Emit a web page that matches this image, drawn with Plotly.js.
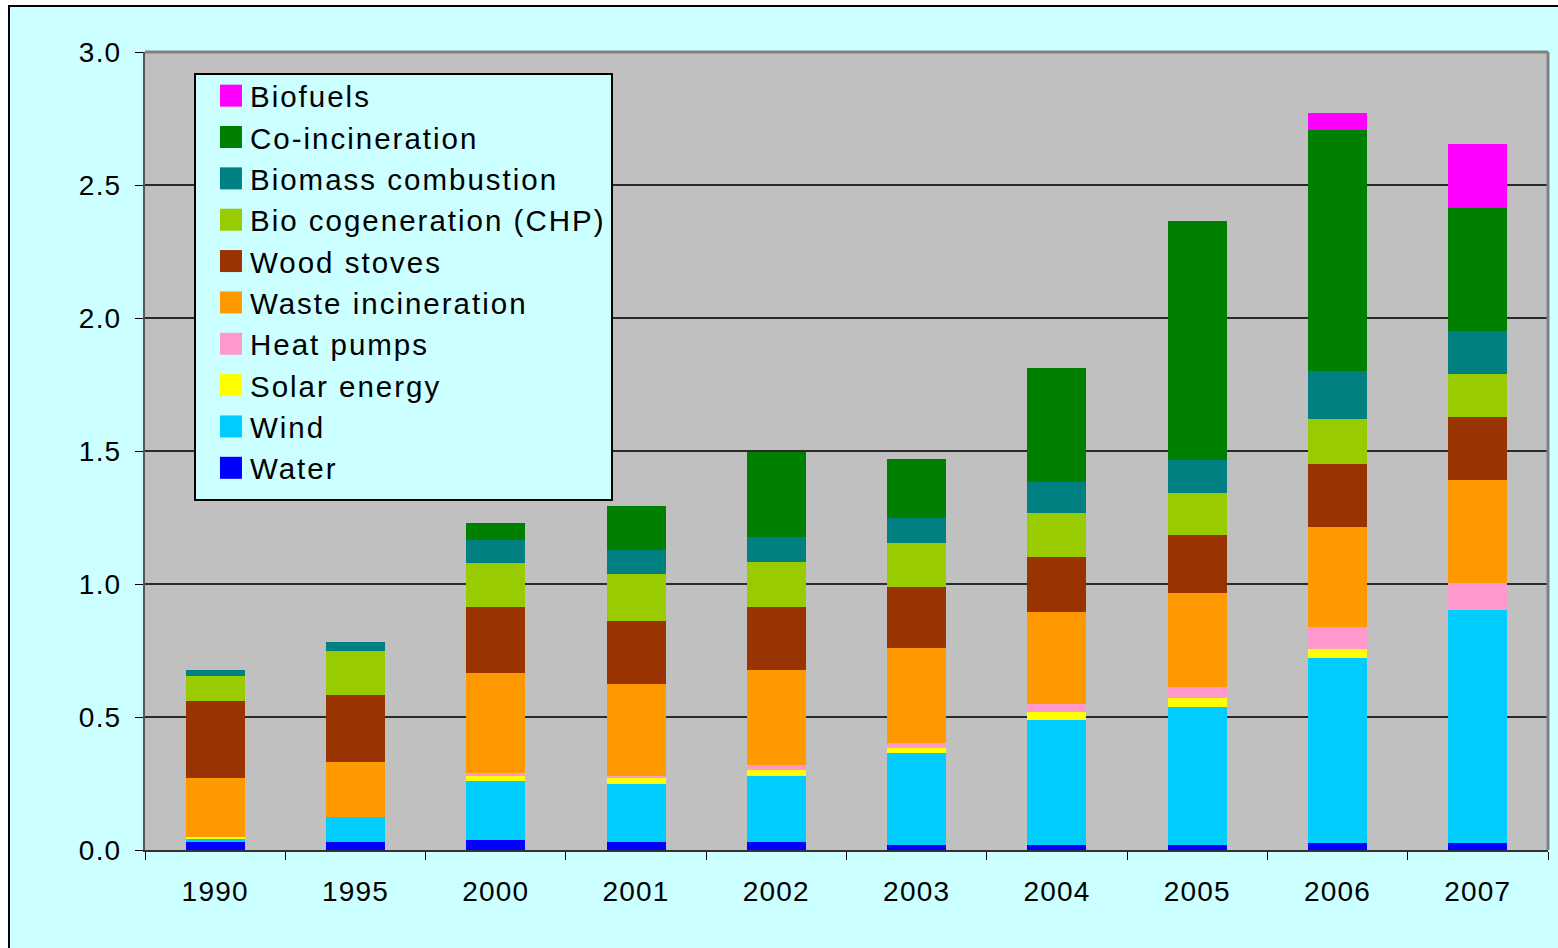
<!DOCTYPE html>
<html>
<head>
<meta charset="utf-8">
<script src="https://cdn.plot.ly/plotly-3.0.1.min.js"></script>
<style>
  html, body { margin:0; padding:0; background:#ffffff; overflow:hidden; width:1558px; height:948px; }
  #frame { position:absolute; left:8px; top:5px; width:1550px; height:943px; background:#CCFFFF;
           border-left:2px solid #000; border-top:2px solid #000; box-sizing:border-box; }
  #chart { position:absolute; left:0; top:0; width:1558px; height:948px; }
  .legendtext { letter-spacing: 2px; }
  .xtick text, .ytick text { letter-spacing: 1.2px; }
</style>
</head>
<body>
<div id="frame"></div>
<div id="chart"></div>
<script>
// Categories (years)
const years = ['1990','1995','2000','2001','2002','2003','2004','2005','2006','2007'];

// Series values
const water        = [0.030, 0.030, 0.038, 0.030, 0.030, 0.019, 0.019, 0.019, 0.026, 0.026];
const wind         = [0.011, 0.094, 0.222, 0.218, 0.248, 0.346, 0.470, 0.519, 0.697, 0.877];
const solar        = [0.008, 0.000, 0.019, 0.023, 0.023, 0.019, 0.030, 0.034, 0.033, 0.000];
const heatPumps    = [0.000, 0.000, 0.011, 0.008, 0.019, 0.019, 0.030, 0.041, 0.084, 0.102];
const wasteInc     = [0.222, 0.207, 0.376, 0.346, 0.357, 0.357, 0.346, 0.353, 0.376, 0.387];
const woodStoves   = [0.289, 0.252, 0.248, 0.237, 0.237, 0.229, 0.207, 0.218, 0.237, 0.237];
const bioCHP       = [0.094, 0.165, 0.165, 0.177, 0.169, 0.165, 0.165, 0.158, 0.166, 0.159];
const biomassComb  = [0.023, 0.034, 0.087, 0.087, 0.094, 0.094, 0.117, 0.124, 0.180, 0.164];
const coInc        = [0.000, 0.000, 0.064, 0.169, 0.321, 0.222, 0.429, 0.898, 0.907, 0.460];
const biofuels     = [0.000, 0.000, 0.000, 0.000, 0.000, 0.000, 0.000, 0.000, 0.064, 0.241];

// Y tick values / labels
const yTickVals = [0, 0.5, 1.0, 1.5, 2.0, 2.5, 3.0];
const yTickText = ['0.0','0.5','1.0','1.5','2.0','2.5','3.0'];

const seriesNames  = ['Water','Wind','Solar energy','Heat pumps','Waste incineration','Wood stoves','Bio cogeneration (CHP)','Biomass combustion','Co-incineration','Biofuels'];
const seriesValues = [water, wind, solar, heatPumps, wasteInc, woodStoves, bioCHP, biomassComb, coInc, biofuels];
const seriesColors = ['#0000FF','#00CCFF','#FFFF00','#FF99CC','#FF9900','#993300','#99CC00','#008080','#008000','#FF00FF'];

const traces = seriesNames.map((n, i) => ({
  type: 'bar',
  name: n,
  x: years,
  y: seriesValues[i],
  marker: { color: seriesColors[i], line: { width: 0 } },
  hoverinfo: 'skip'
}));

const FONT = 'Arial, "Liberation Sans", sans-serif';

const layout = {
  width: 1558,
  height: 948,
  margin: { l: 145, r: 10, t: 52, b: 98, pad: 0 },
  paper_bgcolor: 'rgba(0,0,0,0)',
  plot_bgcolor: '#C0C0C0',
  barmode: 'stack',
  bargap: 0.58,
  showlegend: true,
  legend: {
    x: 0.0349, y: 0.9737, xanchor: 'left', yanchor: 'top',
    bgcolor: '#CCFFFF', bordercolor: '#000000', borderwidth: 2,
    font: { family: FONT, size: 29.5, color: '#000000' },
    traceorder: 'reversed',
    itemwidth: 44,
    entrywidthmode: 'pixels',
    entrywidth: 362
  },
  font: { family: FONT, color: '#000000' },
  xaxis: {
    type: 'category',
    range: [-0.5, 9.5],
    showgrid: false,
    showline: true, linecolor: '#333333', linewidth: 2,
    ticks: 'outside', ticklen: 8, tickcolor: '#000000', tickwidth: 1,
    tickson: 'boundaries',
    tickfont: { family: FONT, size: 28, color: '#000000' },
    ticklabelstandoff: 15,
    zeroline: false,
    fixedrange: true
  },
  yaxis: {
    range: [0, 3],
    tickvals: yTickVals,
    ticktext: yTickText,
    showgrid: true, gridcolor: '#2a2a2a', gridwidth: 1.2,
    showline: true, linecolor: '#555555', linewidth: 2,
    ticks: 'outside', ticklen: 8, tickcolor: '#000000', tickwidth: 1,
    tickfont: { family: FONT, size: 28, color: '#000000' },
    ticklabelstandoff: 8,
    zeroline: false,
    fixedrange: true
  },
  shapes: [
    { type: 'line', xref: 'paper', yref: 'paper', x0: 0, x1: 1, y0: 1, y1: 1, line: { color: '#808080', width: 3 } },
    { type: 'line', xref: 'paper', yref: 'paper', x0: 1, x1: 1, y0: 0, y1: 1, line: { color: '#808080', width: 3 } }
  ]
};

Plotly.newPlot('chart', traces, layout, { staticPlot: true, displayModeBar: false }).then(() => {
  // enlarge legend swatches to match the reference's square keys
  document.querySelectorAll('#chart .legend .legendpoints path').forEach(p => {
    p.setAttribute('d', 'M19,11H-3V-11H19Z');
  });
  // nudge legend entries up slightly inside the box
  document.querySelectorAll('#chart .legend .traces').forEach(g => {
    const t = g.getAttribute('transform') || '';
    const m = t.match(/translate\(\s*([-\d.]+)[ ,]+([-\d.]+)\s*\)/);
    if (m) g.setAttribute('transform', 'translate(' + m[1] + ',' + (parseFloat(m[2]) - 5) + ')');
  });
});
</script>
</body>
</html>
